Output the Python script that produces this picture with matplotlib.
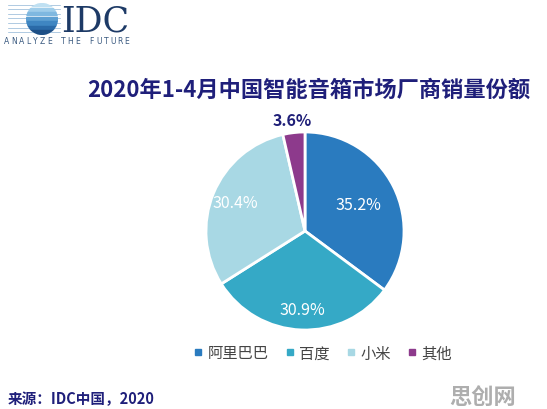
import matplotlib
matplotlib.use("Agg")
import matplotlib.pyplot as plt
from matplotlib.patches import Circle, Rectangle
from matplotlib.lines import Line2D
import numpy as np

plt.rcParams['font.family'] = ['Noto Sans CJK SC', 'DejaVu Sans']

# Data
vendors = ['阿里巴巴', '百度', '小米', '其他']
shares = [35.2, 30.9, 30.4, 3.6]
colors = ['#2a7bbf', '#35a9c6', '#a8d8e4', '#8d3a8c']
label_colors = ['white', 'white', 'white', '#1f1f78']
label_radius = [0.6, 0.79, 0.76, 1.13]
title = '2020年1-4月中国智能音箱市场厂商销量份额'
source = '来源：IDC中国，2020'
tagline = 'ANALYZE THE FUTURE'

W, H = 547, 410
fig = plt.figure(figsize=(W / 100, H / 100), dpi=100)
fig.patch.set_facecolor('white')

# Background overlay axes in pixel coordinates
bg = fig.add_axes([0, 0, 1, 1])
bg.set_xlim(0, W)
bg.set_ylim(H, 0)
bg.axis('off')

# IDC logo
cx, cy, r = 42, 20, 16
clip = Circle((cx, cy), r, transform=bg.transData)
stripe_cols = ['#bfe0f2', '#9fcdea', '#7fb8e0', '#5d9fd2', '#3f86c2', '#2a6aa8', '#1d4f86']
n = len(stripe_cols)
for i, c in enumerate(stripe_cols):
    y0 = cy - r + i * (2 * r / n)
    rect = Rectangle((cx - r, y0), 2 * r, 2 * r / n * 0.72, color=c, transform=bg.transData)
    rect.set_clip_path(clip)
    bg.add_patch(rect)
for i in range(n):
    y = cy - r + i * (2 * r / n) + (2 * r / n) * 0.36
    bg.plot([8, 60], [y, y], color='#8fb5d6', lw=0.5, zorder=0)
bg.text(61, 22, 'IDC', fontsize=25, family='DejaVu Serif', color='#1d3a66',
        va='center', ha='left')
step = (127 - 7) / (len(tagline) - 1)
for i, ch in enumerate(tagline):
    bg.text(7 + i * step, 42, ch, fontsize=5.5, family='DejaVu Sans', color='#3a5a80',
            va='center', ha='center')

# Title
bg.text(309, 90, title, fontsize=16, fontweight='bold', color='#1f1f7a',
        ha='center', va='center')

# Source
bg.text(8, 399, source, fontsize=10.5, fontweight='bold', color='#1f1f7a',
        ha='left', va='center')

# Watermark
bg.text(516, 397, '思创网', fontsize=16, fontweight='bold', color='#a0a0a0',
        ha='right', va='center', alpha=0.85)

# Pie
pcx, pcy, pr = 305, 232, 100
ax = fig.add_axes([(pcx - pr) / W, (H - pcy - pr) / H, 2 * pr / W, 2 * pr / H])
wedges, _ = ax.pie(shares, colors=colors, startangle=90, counterclock=False,
                   wedgeprops=dict(edgecolor='white', linewidth=2))
ax.set_xlim(-1.01, 1.01)
ax.set_ylim(-1.01, 1.01)
ax.set_aspect('equal')
ax.axis('off')
for w, s, lc, lr in zip(wedges, shares, label_colors, label_radius):
    ang = np.deg2rad((w.theta1 + w.theta2) / 2)
    ax.text(lr * np.cos(ang), lr * np.sin(ang), f'{s}%', color=lc, fontsize=11.5,
            fontweight='bold' if lc != 'white' else 'normal',
            ha='center', va='center', clip_on=False)

# Legend
handles = [Line2D([], [], marker='s', linestyle='', markersize=5,
                  markerfacecolor=c, markeredgecolor=c) for c in colors]
fig.legend(handles, vendors, ncol=4, frameon=False, loc='center',
           bbox_to_anchor=(322 / W, 1 - 354 / H), fontsize=11,
           handletextpad=0.2, columnspacing=1.0, handlelength=0.8,
           labelcolor='#444444')

fig.savefig('out.png', dpi=100, facecolor='white')
